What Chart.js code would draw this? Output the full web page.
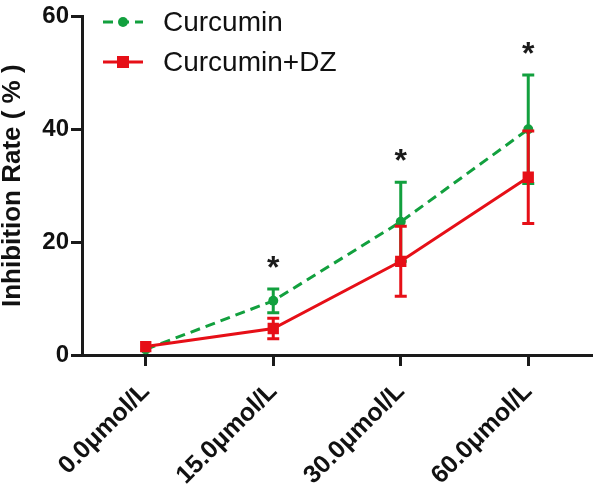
<!DOCTYPE html>
<html>
<head>
<meta charset="utf-8">
<script src="https://cdn.jsdelivr.net/npm/chart.js@4.4.1/dist/chart.umd.min.js"></script>
<style>
  html, body { margin: 0; padding: 0; background: #fff; }
  #wrap { width: 600px; height: 485px; }
</style>
</head>
<body>
<div id="wrap"><canvas id="inhibitionChart" width="600" height="485"></canvas></div>
<script>
// data
const doses = ['0.0\u03bcmol/L', '15.0\u03bcmol/L', '30.0\u03bcmol/L', '60.0\u03bcmol/L'];
const curcumin = [1.0, 9.6, 23.6, 40.0];
const curcuminErr = [0, 2.1, 7.0, 9.6];
const curcuminDz = [1.5, 4.7, 16.6, 31.5];
const curcuminDzErr = [0, 1.8, 6.2, 8.2];
const stars = ['', '*', '*', '*'];
const yTicks = [0, 20, 40, 60];

const GREEN = '#12a03e';
const RED = '#e60f17';
const INK = '#1a1a1a';
const FONT = 'Arial, "Liberation Sans", sans-serif';

document.addEventListener('DOMContentLoaded', function () {
    const canvas = document.getElementById('inhibitionChart');
    const ctx = canvas.getContext('2d');

    // error bars, drawn right after each dataset
    const errorBars = {
        id: 'errorBars',
        afterDatasetDraw(chart, args) {
            const ds = chart.data.datasets[args.index];
            const errs = ds.errors;
            if (!errs) return;
            const y = chart.scales.y;
            const c = chart.ctx;
            c.save();
            c.strokeStyle = ds.borderColor;
            c.lineWidth = 3;
            c.setLineDash([]);
            args.meta.data.forEach((pt, i) => {
                if (!errs[i]) return;
                const top = y.getPixelForValue(ds.data[i] + errs[i]);
                const bot = y.getPixelForValue(ds.data[i] - errs[i]);
                c.beginPath();
                c.moveTo(pt.x, top); c.lineTo(pt.x, bot);
                c.moveTo(pt.x - 6, top); c.lineTo(pt.x + 6, top);
                c.moveTo(pt.x - 6, bot); c.lineTo(pt.x + 6, bot);
                c.stroke();
            });
            c.restore();
        }
    };

    // significance stars above the curcumin error bars
    const starMarks = {
        id: 'starMarks',
        afterDatasetsDraw(chart) {
            const y = chart.scales.y;
            const x = chart.scales.x;
            const c = chart.ctx;
            c.save();
            c.fillStyle = INK;
            c.font = 'bold 32px ' + FONT;
            c.textAlign = 'center';
            c.textBaseline = 'middle';
            stars.forEach((s, i) => {
                if (!s) return;
                const top = y.getPixelForValue(curcumin[i] + curcuminErr[i]);
                c.fillText(s, x.getPixelForValue(i), top - 20);
            });
            c.restore();
        }
    };

    // legend sitting inside the plot, top left
    const insideLegend = {
        id: 'insideLegend',
        afterDraw(chart) {
            const c = chart.ctx;
            c.save();
            chart.data.datasets.forEach((ds, i) => {
                const ly = 22 + i * 40;
                c.strokeStyle = ds.borderColor;
                c.fillStyle = ds.borderColor;
                c.lineWidth = 3;
                c.setLineDash(ds.borderDash || []);
                c.beginPath();
                c.moveTo(103, ly); c.lineTo(143, ly);
                c.stroke();
                c.setLineDash([]);
                if (ds.pointStyle === 'rect') {
                    c.fillRect(117, ly - 6, 12, 12);
                } else {
                    c.beginPath();
                    c.arc(123, ly, 5, 0, Math.PI * 2);
                    c.fill();
                }
                c.fillStyle = '#111';
                c.font = '28px ' + FONT;
                c.textAlign = 'left';
                c.textBaseline = 'middle';
                c.fillText(ds.label, 163, ly + 1);
            });
            c.restore();
        }
    };

    new Chart(ctx, {
        type: 'line',
        data: {
            labels: doses,
            datasets: [{
                label: 'Curcumin',
                data: curcumin,
                errors: curcuminErr,
                borderColor: GREEN,
                backgroundColor: GREEN,
                borderWidth: 3,
                borderDash: [10, 6],
                pointStyle: 'circle',
                pointRadius: 5,
                pointBorderWidth: 0,
                tension: 0,
                order: 2
            }, {
                label: 'Curcumin+DZ',
                data: curcuminDz,
                errors: curcuminDzErr,
                borderColor: RED,
                backgroundColor: RED,
                borderWidth: 3,
                pointStyle: 'rect',
                pointRadius: 8,
                pointBorderWidth: 0,
                tension: 0,
                order: 1
            }]
        },
        options: {
            responsive: false,
            animation: false,
            layout: { padding: { top: 13, right: 2, left: 0, bottom: 0 } },
            scales: {
                x: {
                    type: 'category',
                    offset: true,
                    afterFit: s => { s.height = 130; },
                    grid: {
                        offset: false,
                        drawOnChartArea: false,
                        drawTicks: true,
                        tickLength: 11,
                        tickWidth: 3,
                        tickColor: INK
                    },
                    border: { display: true, width: 3, color: INK },
                    ticks: {
                        color: '#111',
                        font: { family: FONT, size: 25, weight: 'bold' },
                        minRotation: 45,
                        maxRotation: 45,
                        padding: 11
                    }
                },
                y: {
                    min: 0,
                    max: 60,
                    afterFit: s => { s.width = 82; },
                    afterBuildTicks: s => { s.ticks = yTicks.map(v => ({ value: v })); },
                    grid: {
                        drawOnChartArea: false,
                        drawTicks: true,
                        tickLength: 11,
                        tickWidth: 3,
                        tickColor: INK
                    },
                    border: { display: true, width: 3, color: INK },
                    ticks: {
                        color: '#111',
                        font: { family: FONT, size: 24, weight: 'bold' },
                        padding: 2
                    },
                    title: {
                        display: true,
                        text: 'Inhibition Rate ( % )',
                        color: '#111',
                        align: 'center',
                        font: { family: FONT, size: 26, weight: 'bold', lineHeight: 1 },
                        padding: { top: 0, bottom: 0 }
                    }
                }
            },
            plugins: {
                legend: { display: false },
                tooltip: { enabled: false }
            }
        },
        plugins: [errorBars, starMarks, insideLegend]
    });
});
</script>
</body>
</html>
